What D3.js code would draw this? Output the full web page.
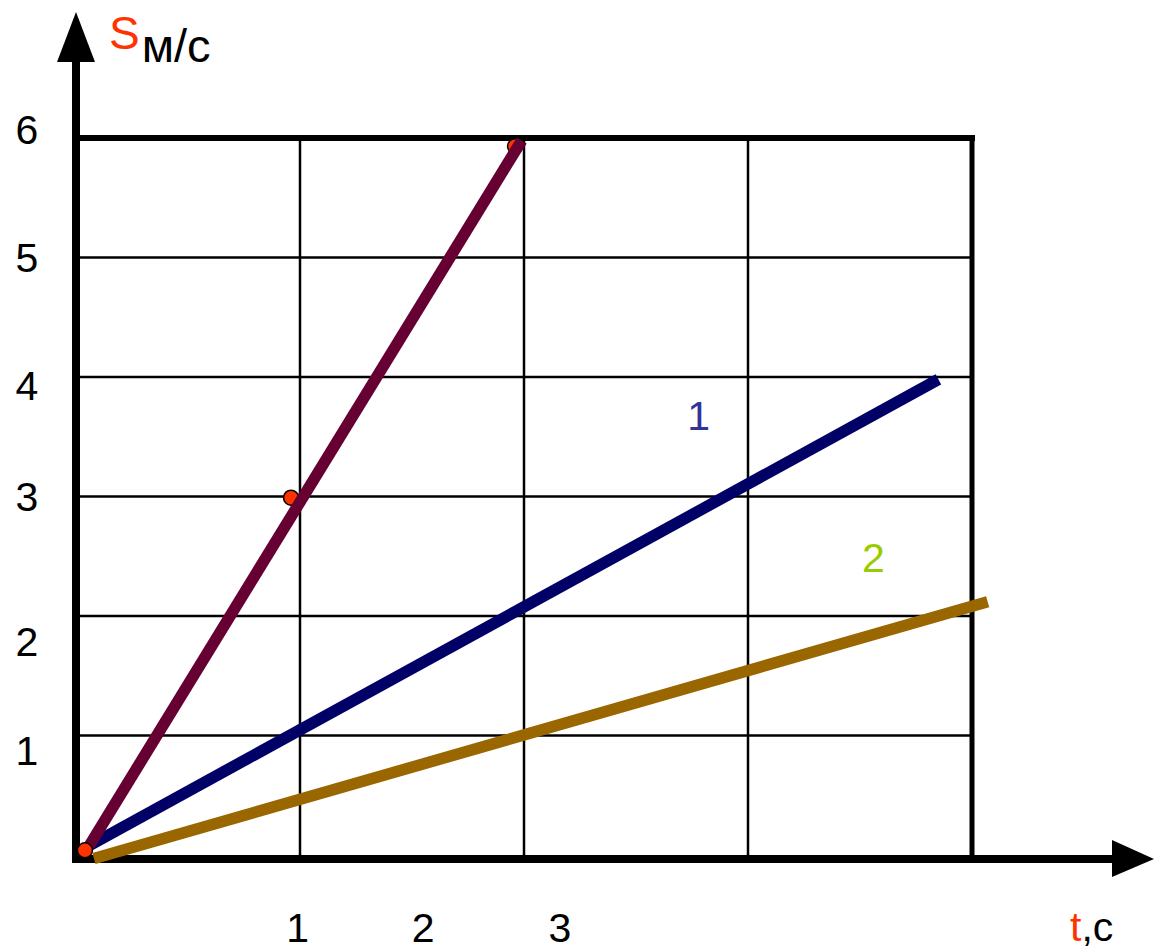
<!DOCTYPE html>
<html>
<head>
<meta charset="utf-8">
<script src="https://cdn.jsdelivr.net/npm/d3@7/dist/d3.min.js"></script>
<style>
  html, body { margin: 0; padding: 0; background: #fff; }
  svg { display: block; font-family: "Liberation Sans", Arial, sans-serif; }
</style>
</head>
<body>
<svg id="chart" width="1154" height="950"></svg>
<script>
// ---- data (in grid units: t along x, S along y) ----
const gridX = [1, 2, 3, 4];
const gridY = [1, 2, 3, 4, 5, 6];
const yTickLabels = ["1", "2", "3", "4", "5", "6"];
const yTickPos = [0.88, 1.79, 3.0, 3.93, 5.0, 6.07];
const xTickLabels = ["1", "2", "3"];
const xTickPos = [0.99, 1.55, 2.16];
const seriesNames = ["0", "1", "2"];
const seriesA = [[0.06, 0.08], [1.99, 5.98]];   // steep (purple)
const seriesB = [[0.06, 0.08], [3.85, 3.98]];   // line 1 (navy)
const seriesC = [[0.08, -0.03], [4.07, 2.12]];  // line 2 (brown)
const dotPoints = [[0.96, 2.99], [1.96, 5.93]];
const originDot = [[0.04, 0.04]];
const seriesLabel1 = [2.78, 3.56];
const seriesLabel2 = [3.56, 2.37];

const svg = d3.select("#chart");
const x = d3.scaleLinear().domain([0, 4]).range([76, 972]);
const y = d3.scaleLinear().domain([0, 6]).range([855, 138]);

// grid
const g = svg.append("g");
g.selectAll(".hg").data(gridY.slice(0, 5)).enter().append("line")
  .attr("x1", x(0)).attr("x2", x(4))
  .attr("y1", d => y(d)).attr("y2", d => y(d))
  .attr("stroke", "#000").attr("stroke-width", 2.5);
g.selectAll(".vg").data(gridX.slice(0, 3)).enter().append("line")
  .attr("x1", d => x(d)).attr("x2", d => x(d))
  .attr("y1", y(0)).attr("y2", y(6))
  .attr("stroke", "#000").attr("stroke-width", 2.5);
// frame top and right
g.append("line").attr("x1", x(0)).attr("x2", x(4) + 3).attr("y1", y(6)).attr("y2", y(6))
  .attr("stroke", "#000").attr("stroke-width", 6);
g.append("line").attr("x1", x(4)).attr("x2", x(4)).attr("y1", y(6)).attr("y2", y(0))
  .attr("stroke", "#000").attr("stroke-width", 5);

// axes with arrows
svg.append("line").attr("x1", x(0)).attr("x2", 1118).attr("y1", y(0) + 4).attr("y2", y(0) + 4)
  .attr("stroke", "#000").attr("stroke-width", 8);
svg.append("path").attr("d", `M1112,840 L1154,859 L1112,877 Z`).attr("fill", "#000");
svg.append("line").attr("x1", x(0)).attr("x2", x(0)).attr("y1", y(0) + 8).attr("y2", 58)
  .attr("stroke", "#000").attr("stroke-width", 8);
svg.append("path").attr("d", `M57,62 L76,12 L95,62 Z`).attr("fill", "#000");

// dots under line
const line = d3.line().x(d => x(d[0])).y(d => y(d[1]));
svg.selectAll(".dot").data(dotPoints).enter().append("circle")
  .attr("cx", d => x(d[0])).attr("cy", d => y(d[1])).attr("r", 7.5)
  .attr("fill", "#ff3300").attr("stroke", "#000").attr("stroke-width", 1.5);

const lineColors = ["#660033", "#000066", "#996600"];
[seriesC, seriesB, seriesA].forEach((s, i) => {
  svg.append("path").datum(s).attr("d", line)
    .attr("fill", "none").attr("stroke", lineColors[2 - i]).attr("stroke-width", 11.5)
    .attr("stroke-linecap", "butt");
});
svg.selectAll(".odot").data(originDot).enter().append("circle")
  .attr("cx", d => x(d[0])).attr("cy", d => y(d[1])).attr("r", 7.5)
  .attr("fill", "#ff3300").attr("stroke", "#000").attr("stroke-width", 1.5);

// tick labels
svg.selectAll(".yt").data(yTickLabels).enter().append("text")
  .attr("x", 27).attr("y", (d, i) => y(yTickPos[i]))
  .attr("dy", "0.36em").attr("text-anchor", "middle")
  .attr("font-size", 41).attr("fill", "#000").text(d => d);
svg.selectAll(".xt").data(xTickLabels).enter().append("text")
  .attr("x", (d, i) => x(xTickPos[i])).attr("y", 942)
  .attr("text-anchor", "middle")
  .attr("font-size", 41).attr("fill", "#000").text(d => d);

// series labels
svg.append("text").attr("x", x(seriesLabel1[0])).attr("y", y(seriesLabel1[1]))
  .attr("text-anchor", "middle").attr("font-size", 41).attr("fill", "#333399").text(seriesNames[1]);
svg.append("text").attr("x", x(seriesLabel2[0])).attr("y", y(seriesLabel2[1]))
  .attr("text-anchor", "middle").attr("font-size", 41).attr("fill", "#99cc00").text(seriesNames[2]);

// axis titles
const yt = svg.append("text").attr("x", 109).attr("y", 49).attr("font-size", 46);
yt.append("tspan").attr("fill", "#ff3300").text("S");
yt.append("tspan").attr("fill", "#000").attr("font-size", 47).attr("dx", 2).attr("dy", 13).text("м/с");
const xt = svg.append("text").attr("x", 1070).attr("y", 941).attr("font-size", 41);
xt.append("tspan").attr("fill", "#ff3300").text("t");
xt.append("tspan").attr("fill", "#000").text(",с");
</script>
</body>
</html>
